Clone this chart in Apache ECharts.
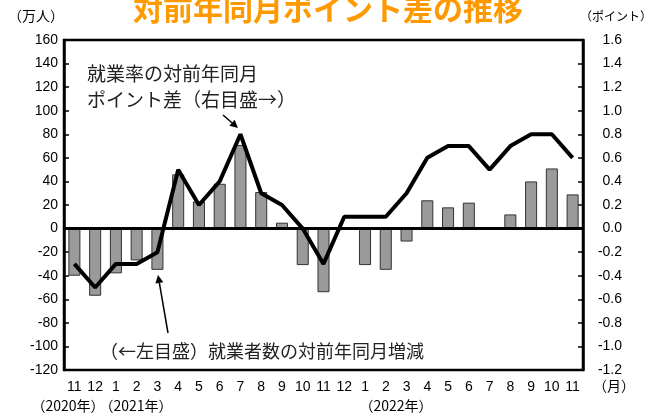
<!DOCTYPE html>
<html><head><meta charset="utf-8">
<script src="https://cdn.jsdelivr.net/npm/echarts@6/dist/echarts.min.js"></script>
<style>html,body{margin:0;padding:0;background:#fff}#c{width:647px;height:414px}</style>
</head><body><div id="c"></div>
<script>
const months = ['11','12','1','2','3','4','5','6','7','8','9','10','11','12','1','2','3','4','5','6','7','8','9','10','11'];
const employedChange = [-40,-57,-38,-27,-35,46,23,38,71,31,5,-31,-54,-1,-31,-35,-11,24,18,22,-1,12,40,51,29];
const rateChange = [-0.3,-0.5,-0.3,-0.3,-0.2,0.5,0.2,0.4,0.8,0.3,0.2,0.0,-0.3,0.1,0.1,0.1,0.3,0.6,0.7,0.7,0.5,0.7,0.8,0.8,0.6];
const yearLabels = [{text:'（2020年）',x:68},{text:'（2021年）',x:136},{text:'（2022年）',x:396}];

const chart = echarts.init(document.getElementById('c'));
const jp = '"Noto Sans CJK JP", sans-serif';
const num = '"Liberation Sans Narrow", "Liberation Sans", Arial, sans-serif';

function arrow(x1,y1,x2,y2){
  const ang = Math.atan2(y2-y1,x2-x1), L=8, W=4;
  const bx = x2 - L*Math.cos(ang), by = y2 - L*Math.sin(ang);
  const px = -Math.sin(ang)*W, py = Math.cos(ang)*W;
  return [
    {type:'line',shape:{x1:x1,y1:y1,x2:bx,y2:by},style:{stroke:'#000',lineWidth:1.5},silent:true},
    {type:'polygon',shape:{points:[[x2,y2],[bx+px,by+py],[bx-px,by-py]]},style:{fill:'#000'},silent:true}
  ];
}

const graphics = [
  {type:'text',x:328,y:-6,style:{text:'対前年同月ポイント差の推移',font:'bold 30px '+jp,fill:'#FF9900',align:'center'}},
  {type:'text',x:8,y:9,style:{text:'（万人）',font:'14px '+jp,fill:'#000'}},
  {type:'text',x:580,y:10,style:{text:'（ポイント）',font:'12px '+jp,fill:'#000'}},
  {type:'text',x:87,y:64,style:{text:'就業率の対前年同月',font:'19px '+jp,fill:'#222'}},
  {type:'text',x:87,y:90,style:{text:'ポイント差（右目盛→）',font:'19px '+jp,fill:'#222'}},
  {type:'text',x:100,y:342,style:{text:'（←左目盛）就業者数の対前年同月増減',font:'18px '+jp,fill:'#222'}},
  {type:'text',x:593,y:379,style:{text:'（月）',font:'14px '+jp,fill:'#000'}}
].concat(yearLabels.map(y=>({type:'text',x:y.x,y:406,style:{text:y.text,font:'14px '+jp,fill:'#000',align:'center',verticalAlign:'middle'}})))
 .concat(arrow(223,115,238,128)).concat(arrow(168,333,158,275));

chart.setOption({
  animation:false,
  grid:{left:64,right:64,top:40,bottom:44,show:true,borderColor:'#000',borderWidth:2.5,backgroundColor:'transparent'},
  xAxis:{type:'category',data:months,axisLine:{show:false,onZero:false},axisTick:{show:false},
    axisLabel:{color:'#000',fontFamily:num,fontSize:14,margin:10,interval:0},splitLine:{show:false}},
  yAxis:[
    {type:'value',min:-120,max:160,interval:20,position:'left',
     axisLine:{show:true,lineStyle:{color:'#000',width:2.5}},
     axisTick:{show:true,inside:true,length:5,lineStyle:{color:'#000',width:1.5}},
     axisLabel:{color:'#000',fontFamily:num,fontSize:14,margin:6},splitLine:{show:false}},
    {type:'value',min:-1.2,max:1.6,interval:0.2,position:'right',
     axisLine:{show:true,lineStyle:{color:'#000',width:2.5}},
     axisTick:{show:true,inside:true,length:5,lineStyle:{color:'#000',width:1.5}},
     axisLabel:{color:'#000',fontFamily:num,fontSize:14,margin:39,align:'right',formatter:v=>v.toFixed(1)},splitLine:{show:false}}
  ],
  series:[
    {type:'bar',data:employedChange,yAxisIndex:0,barWidth:'58%',
     itemStyle:{color:'#9a9a9a',borderColor:'#333',borderWidth:1},
     markLine:{silent:true,symbol:'none',label:{show:false},lineStyle:{color:'#000',width:3,type:'solid'},data:[{yAxis:0}]},
     z:2},
    {type:'line',data:rateChange,yAxisIndex:1,symbol:'none',lineStyle:{color:'#000',width:4},z:3}
  ],
  graphic:graphics
});
</script></body></html>
